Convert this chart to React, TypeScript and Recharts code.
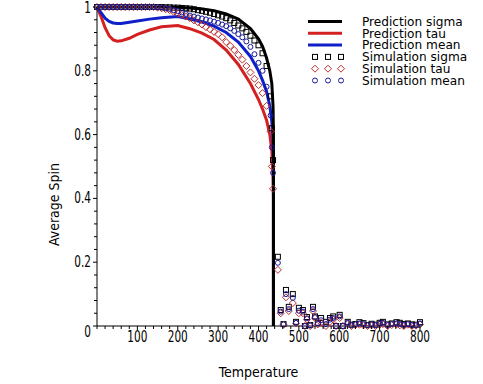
import React from 'react';
import { ComposedChart, Line, Scatter, XAxis, YAxis, Legend } from 'recharts';

// prediction curves (mean-field), sampled along temperature
const predTemps = [0, 10, 20, 30, 40, 50, 60, 80, 100, 130, 160, 200, 230, 260, 290, 320, 350, 380, 400, 410, 420, 428, 433, 436, 437, 437];
const predSigma = [1, 1, 1, 1, 1, 1, 1, 1, 1, 1, 1, 0.999, 0.997, 0.994, 0.988, 0.978, 0.962, 0.932, 0.9, 0.877, 0.84, 0.8, 0.76, 0.69, 0.6, 0];
const predTau = [1, 0.97, 0.935, 0.91, 0.897, 0.893, 0.894, 0.902, 0.914, 0.928, 0.938, 0.942, 0.932, 0.918, 0.898, 0.865, 0.82, 0.76, 0.71, 0.68, 0.645, 0.6, 0.55, 0.47, 0.4, 0];
const predMean = [1, 0.982, 0.965, 0.955, 0.95, 0.948, 0.948, 0.952, 0.956, 0.962, 0.966, 0.97, 0.962, 0.953, 0.94, 0.92, 0.89, 0.845, 0.8, 0.77, 0.735, 0.69, 0.64, 0.58, 0.52, 0];

// simulation samples
const simTemps = [
  0, 10, 20, 30, 40, 50, 60, 70, 80, 90,
  100, 110, 120, 130, 140, 150, 160, 170, 180, 190,
  200, 210, 220, 230, 240, 250, 260, 270, 280, 290,
  300, 310, 320, 330, 340, 350, 360, 370, 380, 390,
  400, 410, 420, 430, 433, 436,
  448, 455, 462, 468, 475, 485, 493, 500, 510, 515,
  520, 528, 535, 540, 547, 555, 567, 577, 585, 592,
  601, 609, 621, 630, 640, 650, 660, 670, 680, 690,
  700, 708, 720, 730, 742, 750, 760, 770, 780, 790,
  800,
];
const simSigma = [
  1, 1, 1, 1, 1, 1, 1, 1, 1, 1,
  1, 1, 1, 1, 1, 1, 1, 0.999, 0.999, 0.998,
  0.998, 0.997, 0.996, 0.995, 0.993, 0.99, 0.988, 0.985, 0.982, 0.978,
  0.974, 0.97, 0.965, 0.958, 0.95, 0.942, 0.933, 0.922, 0.91, 0.895,
  0.88, 0.855, 0.815, 0.72, 0.62, 0.52,
  0.217, 0.05, 0.006, 0.113, 0.06, 0.1, 0.013, 0.057, 0.05, 0,
  0.028, 0.003, 0.06, 0.03, 0.01, 0.025, 0.013, 0.025, 0.03, 0,
  0.035, 0, 0.013, 0.004, 0.006, 0.012, 0.009, 0.003, 0.007, 0.004,
  0.01, 0.013, 0.005, 0.008, 0.012, 0.01, 0.006, 0.008, 0.005, 0.004,
  0.012,
];
const simTau = [
  1, 1, 1, 1, 1, 1, 1, 1, 1, 1,
  1, 1, 1, 1, 1, 0.998, 0.996, 0.993, 0.99, 0.985,
  0.98, 0.975, 0.97, 0.965, 0.958, 0.952, 0.945, 0.937, 0.93, 0.922,
  0.915, 0.905, 0.89, 0.878, 0.865, 0.85, 0.835, 0.815, 0.795, 0.775,
  0.755, 0.73, 0.69, 0.61, 0.5, 0.43,
  0.176, 0.04, 0.004, 0.09, 0.047, 0.072, 0.008, 0.04, 0.04, 0,
  0.02, 0, 0.047, 0.025, 0.005, 0.01, 0, 0.013, 0.02, 0,
  0.025, 0, 0.006, 0, 0.003, 0.004, 0.002, 0, 0.002, 0,
  0.004, 0.006, 0, 0.003, 0.005, 0.002, 0, 0.004, 0, 0.001,
  0.005,
];
const simMean = [
  1, 1, 1, 1, 1, 1, 1, 1, 1, 1,
  1, 1, 1, 1, 1, 0.999, 0.998, 0.996, 0.994, 0.99,
  0.987, 0.983, 0.978, 0.973, 0.97, 0.967, 0.964, 0.961, 0.958, 0.954,
  0.95, 0.945, 0.94, 0.933, 0.925, 0.915, 0.905, 0.892, 0.875, 0.852,
  0.825, 0.8, 0.75, 0.66, 0.56, 0.48,
  0.198, 0.045, 0.005, 0.1, 0.053, 0.088, 0.01, 0.048, 0.045, 0,
  0.024, 0.002, 0.053, 0.028, 0.008, 0.018, 0.006, 0.02, 0.025, 0,
  0.03, 0, 0.01, 0.002, 0.005, 0.008, 0.006, 0.002, 0.005, 0.002,
  0.007, 0.01, 0.003, 0.006, 0.008, 0.006, 0.003, 0.006, 0.003, 0.002,
  0.008,
];

const xTicks = [0, 20, 40, 60, 80, 100, 120, 140, 160, 180, 200, 220, 240, 260, 280, 300, 320, 340, 360, 380, 400, 420, 440, 460, 480, 500, 520, 540, 560, 580, 600, 620, 640, 660, 680, 700, 720, 740, 760, 780, 800];
const xLabels = [100, 200, 300, 400, 500, 600, 700, 800];
const yTicks = [0, 0.04, 0.08, 0.12, 0.16, 0.2, 0.24, 0.28, 0.32, 0.36, 0.4, 0.44, 0.48, 0.52, 0.56, 0.6, 0.64, 0.68, 0.72, 0.76, 0.8, 0.84, 0.88, 0.92, 0.96, 1];
const yLabels = [0, 0.2, 0.4, 0.6, 0.8, 1];

const legendItems = [
  { name: 'Prediction sigma', kind: 'line', color: '#000000' },
  { name: 'Prediction tau', kind: 'line', color: '#d42020' },
  { name: 'Prediction mean', kind: 'line', color: '#1020c8' },
  { name: 'Simulation sigma', kind: 'square', color: '#000000' },
  { name: 'Simulation tau', kind: 'diamond', color: '#b83030' },
  { name: 'Simulation mean', kind: 'circle', color: '#1a1a9a' },
];

const FONT = "'Liberation Sans Narrow', 'DejaVu Sans Condensed', 'Liberation Sans', Arial, sans-serif";

const toPoints = (ts: number[], vs: number[]) => ts.map((t, i) => ({ t, v: vs[i] }));

const isLabel = (list: number[], v: number) => list.some((m) => Math.abs(m - v) < 1e-9);

const Marker = ({ kind, cx, cy, color }: any) => {
  if (kind === 'square')
    return <rect x={cx - 2.5} y={cy - 2.5} width={5} height={5} fill="none" stroke={color} strokeWidth={1} />;
  if (kind === 'diamond')
    return (
      <polygon
        points={`${cx},${cy - 3.5} ${cx + 3.5},${cy} ${cx},${cy + 3.5} ${cx - 3.5},${cy}`}
        fill="none"
        stroke={color}
        strokeWidth={1}
      />
    );
  return <circle cx={cx} cy={cy} r={2.5} fill="none" stroke={color} strokeWidth={1} />;
};

// narrow tick text, like the original plot's condensed digits
const TickText = ({ x, y, anchor, children }: any) => (
  <text
    transform={`translate(${x} ${y}) scale(0.78 1)`}
    textAnchor={anchor}
    dominantBaseline="central"
    fontSize={15}
    fill="#000"
  >
    {children}
  </text>
);

const XTick = ({ x, y, payload }: any) => {
  const major = isLabel(xLabels, payload.value);
  return (
    <g>
      <line x1={x} y1={y} x2={x} y2={y + (major ? 4 : 3)} stroke="#000" />
      {major && <TickText x={x} y={y + 11} anchor="middle">{payload.value}</TickText>}
    </g>
  );
};

const YTick = ({ x, y, payload }: any) => {
  const major = isLabel(yLabels, payload.value);
  const dy = payload.value === 0 ? 6 : payload.value === 1 ? 1 : 0;
  return (
    <g>
      <line x1={x - (major ? 4 : 3)} y1={y} x2={x} y2={y} stroke="#000" />
      {major && <TickText x={x - 6} y={y + dy} anchor="end">{payload.value}</TickText>}
    </g>
  );
};

const LegendBox = () => (
  <svg width={183} height={84}>
    {legendItems.map((item, i) => {
      const y = 11.5 + i * 11.8;
      return (
        <g key={item.name}>
          {item.kind === 'line' ? (
            <line x1={8} y1={y} x2={42} y2={y} stroke={item.color} strokeWidth={3} />
          ) : (
            [15, 28, 41].map((mx) => <Marker key={mx} kind={item.kind} cx={mx} cy={y} color={item.color} />)
          )}
          <text
            transform={`translate(62 ${y}) scale(1.08 1)`}
            dominantBaseline="central"
            fontSize={12.5}
            fontFamily={FONT}
            fill="#000"
          >
            {item.name}
          </text>
        </g>
      );
    })}
  </svg>
);

const App = () => (
  <div style={{ position: 'absolute', left: 0, top: 0, background: '#fff' }}>
    <ComposedChart
      width={483}
      height={384}
      margin={{ top: 7, right: 63, bottom: 0, left: 37 }}
      style={{ fontFamily: FONT }}
    >
      <XAxis
        type="number"
        dataKey="t"
        domain={[0, 800]}
        ticks={xTicks}
        interval={0}
        tickSize={0}
        tickMargin={0}
        tickLine={false}
        tick={<XTick />}
        axisLine={{ stroke: '#000' }}
        height={58}
        label={{
          content: ({ viewBox }: any) => (
            <text x={viewBox.x + viewBox.width / 2} y={viewBox.y + 46} textAnchor="middle" dominantBaseline="central" fontSize={14} fill="#000">
              Temperature
            </text>
          ),
        }}
      />
      <YAxis
        type="number"
        domain={[0, 1]}
        ticks={yTicks}
        interval={0}
        tickSize={0}
        tickMargin={0}
        tickLine={false}
        tick={<YTick />}
        axisLine={{ stroke: '#000' }}
        width={60}
        label={{
          content: ({ viewBox }: any) => {
            const cx = viewBox.x + 17;
            const cy = viewBox.y + viewBox.height / 2 + 38;
            return (
              <text x={cx} y={cy} transform={`rotate(-90 ${cx} ${cy})`} textAnchor="middle" dominantBaseline="central" fontSize={14} fill="#000">
                Average Spin
              </text>
            );
          },
        }}
      />
      <Legend
        layout="vertical"
        align="center"
        verticalAlign="middle"
        content={() => <LegendBox />}
        wrapperStyle={{ position: 'absolute', left: 300, top: 10, width: 183, height: 84 }}
      />
      <Line data={toPoints(predTemps, predTau)} dataKey="v" type="linear" stroke="#d42020" strokeWidth={3} dot={false} isAnimationActive={false} />
      <Line data={toPoints(predTemps, predMean)} dataKey="v" type="linear" stroke="#1020c8" strokeWidth={3} dot={false} isAnimationActive={false} />
      <Line data={toPoints(predTemps, predSigma)} dataKey="v" type="linear" stroke="#000000" strokeWidth={3} dot={false} isAnimationActive={false} />
      <Scatter data={toPoints(simTemps, simSigma)} dataKey="v" isAnimationActive={false}
        shape={(p: any) => <Marker kind="square" cx={p.cx} cy={p.cy} color="#000000" />} />
      <Scatter data={toPoints(simTemps, simTau)} dataKey="v" isAnimationActive={false}
        shape={(p: any) => <Marker kind="diamond" cx={p.cx} cy={p.cy} color="#b83030" />} />
      <Scatter data={toPoints(simTemps, simMean)} dataKey="v" isAnimationActive={false}
        shape={(p: any) => <Marker kind="circle" cx={p.cx} cy={p.cy} color="#1a1a9a" />} />
    </ComposedChart>
  </div>
);

export default App;
